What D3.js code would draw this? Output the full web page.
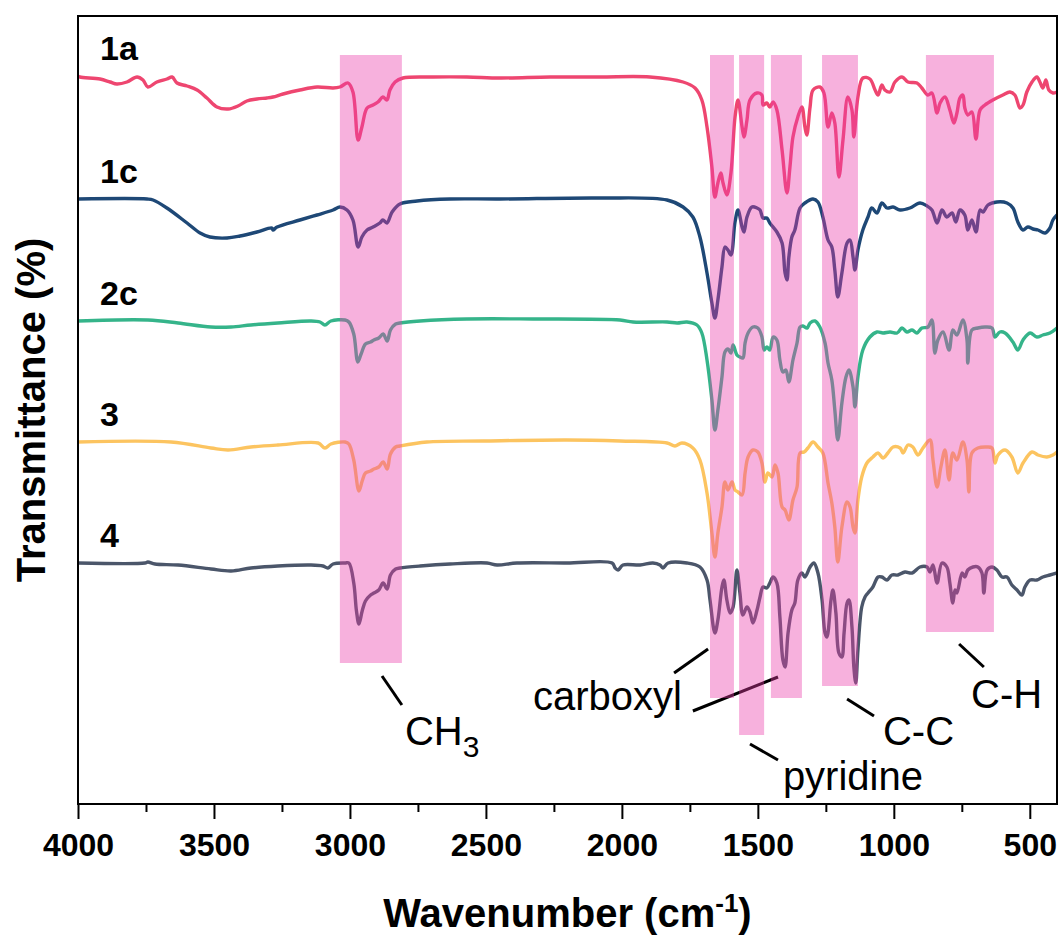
<!DOCTYPE html>
<html>
<head>
<meta charset="utf-8">
<script src="https://cdn.jsdelivr.net/npm/d3@7"></script>
<style>
  html, body { margin: 0; padding: 0; background: #fff; }
  svg { display: block; }
</style>
</head>
<body>
<svg id="chart" width="1061" height="937"></svg>
<script>
// FTIR spectra, stacked with vertical offsets (transmittance, arbitrary units)
const seriesNames = ["1a", "1c", "2c", "3", "4"];
const seriesColors = ["#ee4670", "#1e4876", "#35b48a", "#fcc460", "#4b566a"];

const spec1a = [
[4000,72.8],[3993,72.7],[3919,72.5],[3882,72.2],[3857,72.0],[3820,72.2],[3783,72.7],[3761,72.4],[3743,71.7],[3710,72.2],[3673,72.5],[3654,72.7],[3636,72.1],[3599,71.8],[3562,71.4],[3526,70.6],[3489,69.7],[3448,69.5],[3412,69.8],[3379,70.3],[3342,70.5],[3305,70.6],[3283,70.7],[3246,71.0],[3184,71.4],[3121,71.7],[3062,71.6],[3037,71.7],[3007,72.1],[2989,71.2],[2970,66.4],[2956,67.7],[2937,69.6],[2915,69.9],[2897,70.2],[2879,70.7],[2864,70.4],[2853,71.4],[2834,72.2],[2805,72.6],[2695,72.7],[2570,72.7],[2448,72.6],[2264,72.7],[2081,72.7],[1897,72.7],[1775,72.2],[1731,71.6],[1706,70.4],[1687,67.7],[1669,63.7],[1658,60.7],[1647,62.1],[1636,63.1],[1628,62.1],[1614,60.9],[1599,63.1],[1584,68.7],[1573,70.4],[1558,67.7],[1551,66.7],[1540,68.4],[1529,70.4],[1503,71.1],[1485,70.9],[1481,69.9],[1467,70.1],[1456,69.7],[1444,70.2],[1430,69.4],[1411,65.4],[1393,61.1],[1382,63.7],[1371,66.7],[1353,68.7],[1338,69.7],[1327,67.7],[1320,66.9],[1308,69.7],[1297,71.4],[1272,71.7],[1257,71.1],[1242,67.7],[1228,69.1],[1217,68.1],[1202,62.7],[1187,66.4],[1169,70.7],[1154,69.4],[1147,66.7],[1132,70.7],[1114,72.6],[1088,72.5],[1069,71.4],[1058,70.9],[1044,71.9],[1033,71.4],[1014,71.2],[996,72.2],[970,72.7],[948,72.2],[915,72.1],[897,71.6],[875,70.9],[860,71.1],[841,69.1],[830,70.1],[812,70.7],[794,69.4],[779,68.1],[768,69.1],[757,70.6],[746,70.9],[739,69.6],[728,68.9],[713,69.2],[698,66.5],[683,69.4],[665,69.9],[636,70.4],[599,70.9],[573,71.2],[555,70.9],[536,69.6],[525,69.9],[511,71.2],[492,72.2],[474,72.7],[463,72.2],[452,71.6],[441,72.4],[430,71.4],[415,71.1],[400,71.2]
];

const spec1c = [
[4000,60.5],[3746,60.5],[3724,60.4],[3673,59.6],[3599,58.1],[3551,57.1],[3515,56.7],[3452,56.6],[3404,56.8],[3342,57.2],[3287,57.6],[3283,57.4],[3268,57.7],[3184,58.4],[3121,58.9],[3062,59.4],[3037,59.7],[3011,59.4],[2989,58.4],[2970,55.7],[2956,56.7],[2937,57.4],[2915,57.7],[2890,58.1],[2879,58.4],[2864,58.1],[2845,59.2],[2816,60.0],[2753,60.3],[2632,60.5],[2448,60.5],[2081,60.6],[1834,60.4],[1775,59.7],[1739,58.7],[1713,56.7],[1687,53.1],[1669,50.1],[1658,48.6],[1647,50.4],[1632,53.7],[1621,55.7],[1610,55.4],[1599,54.9],[1584,58.2],[1573,59.4],[1558,57.7],[1551,57.2],[1540,58.7],[1522,59.7],[1503,59.6],[1492,59.4],[1481,58.6],[1467,58.6],[1456,58.1],[1430,57.2],[1411,56.1],[1400,53.1],[1393,52.4],[1386,54.7],[1375,56.7],[1364,57.4],[1345,59.6],[1327,60.1],[1297,60.5],[1279,60.2],[1261,58.7],[1242,56.4],[1228,55.7],[1217,53.4],[1206,50.7],[1191,53.1],[1172,56.1],[1161,56.4],[1150,54.7],[1143,53.4],[1132,55.4],[1114,57.4],[1095,58.7],[1081,59.6],[1062,59.1],[1044,60.1],[1025,59.6],[1003,59.7],[977,59.4],[941,59.6],[904,60.1],[878,59.8],[860,59.4],[841,58.1],[823,59.4],[805,58.7],[786,59.1],[772,58.2],[757,59.4],[739,58.9],[728,57.4],[713,58.4],[698,57.2],[683,59.4],[672,59.2],[654,59.9],[621,60.2],[584,60.1],[562,59.6],[544,58.2],[525,57.4],[507,57.7],[488,57.5],[470,57.4],[444,57.1],[426,57.6],[415,58.4],[400,58.9]
];

const spec2c = [
[4000,48.3],[3743,48.4],[3632,48.1],[3511,47.7],[3437,47.7],[3364,47.9],[3265,48.1],[3143,48.3],[3110,48.2],[3092,47.9],[3070,48.3],[3018,48.4],[3004,48.2],[2986,47.0],[2971,44.2],[2959,45.0],[2943,46.0],[2924,46.2],[2912,46.4],[2894,46.6],[2878,47.0],[2863,46.3],[2851,47.4],[2832,48.0],[2816,48.1],[2742,48.3],[2570,48.5],[2327,48.5],[2007,48.4],[1959,48.2],[1834,48.2],[1797,48.1],[1761,48.2],[1724,47.9],[1706,47.1],[1687,44.4],[1669,40.4],[1658,37.4],[1647,39.4],[1632,42.7],[1621,45.2],[1610,45.5],[1599,45.1],[1591,45.9],[1577,44.9],[1566,44.7],[1555,44.6],[1547,46.1],[1536,47.1],[1518,47.7],[1500,47.6],[1485,46.7],[1477,45.4],[1467,45.7],[1456,45.4],[1444,46.7],[1430,46.4],[1419,44.4],[1408,43.2],[1397,43.4],[1386,42.2],[1371,44.4],[1356,46.1],[1345,47.7],[1334,47.8],[1319,47.6],[1308,48.1],[1290,48.3],[1272,47.7],[1253,46.1],[1242,44.1],[1228,42.4],[1217,39.4],[1206,36.4],[1191,40.1],[1176,42.7],[1165,43.4],[1150,41.7],[1143,39.7],[1132,42.7],[1114,45.4],[1088,46.7],[1062,47.2],[1040,47.1],[1014,47.2],[988,47.1],[970,47.6],[952,47.2],[933,47.4],[915,47.1],[897,47.6],[874,47.7],[860,48.4],[849,45.1],[838,46.4],[819,47.2],[797,45.4],[783,47.4],[768,46.9],[746,48.4],[731,46.4],[728,44.1],[713,47.4],[691,47.6],[665,47.7],[639,47.6],[628,46.7],[610,47.2],[591,47.1],[562,46.2],[544,45.4],[525,46.4],[499,47.1],[474,46.7],[452,46.9],[426,47.1],[400,47.6]
];

const spec3 = [
[4000,36.2],[3658,36.2],[3511,35.6],[3448,35.4],[3364,35.7],[3265,35.9],[3117,36.1],[3092,35.6],[3070,36.0],[3018,36.2],[3004,36.0],[2986,34.4],[2967,31.3],[2955,32.3],[2943,33.1],[2924,33.3],[2912,33.5],[2894,33.7],[2878,34.2],[2863,33.5],[2851,35.0],[2832,35.7],[2816,35.8],[2717,36.2],[2511,36.3],[2202,36.4],[2007,36.3],[1834,36.1],[1805,35.8],[1779,36.1],[1739,35.6],[1713,34.4],[1687,31.1],[1669,27.1],[1658,24.7],[1647,27.1],[1632,29.7],[1621,32.2],[1610,31.4],[1595,32.2],[1584,31.4],[1573,31.2],[1558,30.9],[1547,33.1],[1536,34.7],[1518,35.4],[1500,35.2],[1485,34.1],[1474,32.2],[1463,33.1],[1448,32.7],[1437,33.9],[1426,33.1],[1411,29.7],[1400,29.4],[1386,28.4],[1371,30.4],[1356,31.7],[1345,35.1],[1330,35.2],[1316,35.6],[1297,36.2],[1279,35.7],[1261,35.1],[1242,32.1],[1228,30.1],[1217,27.7],[1206,24.2],[1191,27.7],[1172,30.2],[1161,29.7],[1150,27.7],[1143,27.1],[1132,30.4],[1118,32.7],[1099,34.1],[1077,34.7],[1058,35.1],[1040,34.6],[1022,35.1],[1003,35.7],[977,35.6],[966,35.1],[948,35.9],[930,35.7],[911,34.9],[893,35.6],[867,36.4],[856,34.4],[841,31.7],[827,33.7],[812,35.4],[797,32.4],[783,35.1],[768,34.4],[746,36.2],[731,34.4],[724,31.2],[713,35.1],[691,35.6],[657,35.7],[639,35.6],[628,34.1],[617,34.9],[591,35.4],[566,34.7],[544,33.1],[525,34.1],[492,35.2],[470,34.9],[437,34.7],[415,34.9],[400,35.2]
];

const spec4 = [
[4000,24.1],[3754,24.1],[3743,24.2],[3717,24.0],[3632,23.9],[3511,23.5],[3437,23.3],[3364,23.6],[3265,23.8],[3143,23.9],[3099,23.8],[3081,23.6],[3062,24.0],[3018,24.1],[3004,24.1],[2986,22.1],[2976,19.3],[2967,18.0],[2955,19.3],[2943,20.3],[2924,20.9],[2912,21.1],[2894,21.4],[2878,22.1],[2863,21.5],[2851,22.9],[2832,23.5],[2816,23.6],[2742,23.8],[2632,24.0],[2496,24.1],[2459,23.9],[2386,24.1],[2202,24.1],[2036,24.1],[2025,23.6],[2014,23.4],[1996,23.9],[1933,23.9],[1886,24.1],[1860,23.9],[1849,23.6],[1830,24.1],[1761,24.1],[1713,23.7],[1687,22.4],[1676,20.4],[1658,17.1],[1647,18.4],[1632,21.7],[1625,22.4],[1614,20.4],[1602,19.1],[1591,19.7],[1577,23.4],[1566,21.1],[1555,18.9],[1540,19.7],[1529,19.2],[1518,18.1],[1503,19.4],[1492,20.7],[1481,21.7],[1467,21.6],[1456,22.1],[1444,22.7],[1430,22.1],[1419,18.7],[1408,14.4],[1400,13.7],[1389,17.1],[1375,19.4],[1364,20.1],[1353,22.4],[1338,23.1],[1327,22.7],[1308,23.7],[1294,24.1],[1279,23.1],[1264,20.4],[1253,17.1],[1246,16.7],[1231,20.4],[1224,21.4],[1213,19.1],[1202,15.1],[1191,14.7],[1183,17.1],[1172,20.1],[1165,20.4],[1154,17.7],[1147,13.7],[1140,12.1],[1132,15.4],[1118,19.7],[1106,20.7],[1095,21.1],[1077,21.7],[1058,22.7],[1044,22.7],[1025,22.4],[1007,22.9],[985,22.9],[959,23.2],[933,23.1],[904,23.7],[878,23.7],[867,23.2],[856,23.9],[841,22.1],[823,24.1],[805,23.7],[794,22.1],[783,20.1],[775,21.4],[768,21.1],[749,23.1],[739,22.7],[728,23.4],[709,23.7],[691,23.7],[676,23.1],[669,21.1],[657,23.4],[639,23.7],[621,23.4],[602,22.7],[584,22.7],[566,21.9],[547,21.4],[529,20.9],[518,21.7],[499,22.4],[474,22.4],[452,22.7],[426,22.9],[400,23.1]
];

const spectra = [spec1a, spec1c, spec2c, spec3, spec4];

// Highlighted absorption regions: [high wavenumber, low wavenumber, lower edge value]
const bandFrom   = [3037, 1676, 1569, 1452, 1264, 882];
const bandTo     = [2809, 1588, 1477, 1338, 1132, 632];
const bandBottom = [14.1, 10.6, 6.9, 10.6, 11.8, 17.2];
const bandTop = 74.9;

// Assignment labels and their leader lines, in (wavenumber, value) units
const annoText  = ["CH", "carboxyl", "pyridine", "C-C", "C-H"];
const annoSub   = ["3", "", "", "", ""];
const annoPos   = [[2798, 5.9], [2327, 9.4], [1408, 1.4], [1040, 5.9], [716, 9.6]];
const leaderLines = [
  [[2882, 12.8], [2809, 9.9]],
  [[1808, 13.1], [1683, 15.5]],
  [[1739, 9.3], [1426, 12.7]],
  [[1529, 6.0], [1426, 4.4]],
  [[1172, 10.5], [1073, 8.8]],
  [[760, 16.0], [669, 13.7]]
];

const majorTicks = [4000, 3500, 3000, 2500, 2000, 1500, 1000, 500];
const minorTicks = [3750, 3250, 2750, 2250, 1750, 1250, 750];

const FONT = "'Liberation Sans', Arial, Helvetica, sans-serif";

const svg = d3.select("#chart");
const plotL = 78, plotR = 1057, plotT = 16, plotB = 804;

const x = d3.scaleLinear().domain([4000, 400]).range([plotL, plotR]);
const y = d3.scaleLinear().domain([0, 78.8]).range([plotB, plotT]);

svg.append("rect").attr("width", 1061).attr("height", 937).attr("fill", "#fff");

svg.append("defs").append("clipPath").attr("id", "plot-clip")
  .append("rect").attr("x", plotL).attr("y", plotT)
  .attr("width", plotR - plotL).attr("height", plotB - plotT);

// Spectra
const line = d3.line()
  .x(d => x(d[0]))
  .y(d => y(d[1]))
  .curve(d3.curveCatmullRom.alpha(0.5));

const gLines = svg.append("g").attr("clip-path", "url(#plot-clip)");
spectra.forEach((s, i) => {
  gLines.append("path")
    .datum(s)
    .attr("d", line)
    .attr("fill", "none")
    .attr("stroke", seriesColors[i])
    .attr("stroke-width", 3.4)
    .attr("stroke-linejoin", "round")
    .attr("stroke-linecap", "round");
});

// Sample labels above each trace
spectra.forEach((s, i) => {
  svg.append("text")
    .attr("x", 100)
    .attr("y", y(s[0][1]) - 16)
    .attr("font-family", FONT)
    .attr("font-weight", "bold")
    .attr("font-size", 34)
    .attr("fill", "#000")
    .text(seriesNames[i]);
});

// Leader lines
svg.append("g").selectAll("line")
  .data(leaderLines)
  .join("line")
  .attr("x1", d => x(d[0][0])).attr("y1", d => y(d[0][1]))
  .attr("x2", d => x(d[1][0])).attr("y2", d => y(d[1][1]))
  .attr("stroke", "#000")
  .attr("stroke-width", 3);

// Translucent band overlays
svg.append("g").selectAll("rect")
  .data(bandFrom.map((f, i) => [f, bandTo[i], bandBottom[i]]))
  .join("rect")
  .attr("x", d => x(d[0]))
  .attr("width", d => x(d[1]) - x(d[0]))
  .attr("y", y(bandTop))
  .attr("height", d => y(d[2]) - y(bandTop))
  .attr("fill", "#eb3caa")
  .attr("fill-opacity", 0.4);

// Assignment labels
annoText.forEach((t, i) => {
  const tx = svg.append("text")
    .attr("x", x(annoPos[i][0]))
    .attr("y", y(annoPos[i][1]))
    .attr("font-family", FONT)
    .attr("font-size", 40)
    .attr("fill", "#000")
    .text(t);
  if (annoSub[i]) {
    tx.append("tspan").attr("dy", 12).attr("font-size", 30).text(annoSub[i]);
  }
});

// Axes
const xAxis = d3.axisBottom(x)
  .tickValues(majorTicks)
  .tickSize(15)
  .tickSizeOuter(0)
  .tickPadding(14)
  .tickFormat(d3.format("d"));

const gx = svg.append("g")
  .attr("transform", `translate(0,${plotB})`)
  .call(xAxis);
gx.select(".domain").remove();
gx.selectAll(".tick line").attr("stroke", "#000").attr("stroke-width", 2);
gx.selectAll(".tick text")
  .attr("font-family", FONT)
  .attr("font-weight", "bold")
  .attr("font-size", 32)
  .attr("fill", "#000");

const xMinor = d3.axisBottom(x)
  .tickValues(minorTicks)
  .tickSize(8)
  .tickSizeOuter(0)
  .tickFormat("");
const gxm = svg.append("g")
  .attr("transform", `translate(0,${plotB})`)
  .call(xMinor);
gxm.select(".domain").remove();
gxm.selectAll(".tick line").attr("stroke", "#000").attr("stroke-width", 2);

// Plot frame
svg.append("rect")
  .attr("x", plotL).attr("y", plotT)
  .attr("width", plotR - plotL).attr("height", plotB - plotT)
  .attr("fill", "none")
  .attr("stroke", "#000")
  .attr("stroke-width", 2);

// Axis titles
const xt = svg.append("text")
  .attr("x", (plotL + plotR) / 2)
  .attr("y", 927)
  .attr("text-anchor", "middle")
  .attr("font-family", FONT)
  .attr("font-weight", "bold")
  .attr("font-size", 40)
  .attr("fill", "#000");
xt.append("tspan").text("Wavenumber (cm");
xt.append("tspan").attr("dy", -15).attr("font-size", 26).text("-1");
xt.append("tspan").attr("dy", 15).text(")");

svg.append("text")
  .attr("transform", `translate(45,${(plotT + plotB) / 2}) rotate(-90)`)
  .attr("text-anchor", "middle")
  .attr("font-family", FONT)
  .attr("font-weight", "bold")
  .attr("font-size", 40)
  .attr("fill", "#000")
  .text("Transmittance (%)");
</script>
</body>
</html>
